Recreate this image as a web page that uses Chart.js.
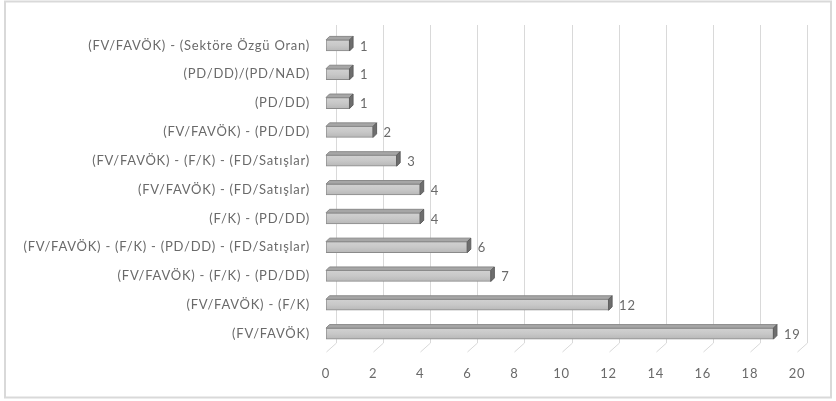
<!DOCTYPE html>
<html>
<head>
<meta charset="utf-8">
<script src="https://cdn.jsdelivr.net/npm/chart.js@4.4.1/dist/chart.umd.min.js"></script>
<style>
  html, body { margin: 0; padding: 0; background: #ffffff; }
  #wrap { position: relative; width: 836px; height: 401px; }
</style>
</head>
<body>
<div id="wrap"><canvas id="chart" width="836" height="401"></canvas></div>
<script>
// Valuation method combinations and how often each was used
const methods = [
  '(FV/FAVÖK) - (Sektöre Özgü Oran)',
  '(PD/DD)/(PD/NAD)',
  '(PD/DD)',
  '(FV/FAVÖK) - (PD/DD)',
  '(FV/FAVÖK) - (F/K) - (FD/Satışlar)',
  '(FV/FAVÖK) - (FD/Satışlar)',
  '(F/K) - (PD/DD)',
  '(FV/FAVÖK) - (F/K) - (PD/DD) - (FD/Satışlar)',
  '(FV/FAVÖK) - (F/K) - (PD/DD)',
  '(FV/FAVÖK) - (F/K)',
  '(FV/FAVÖK)'
];
const counts = [1, 1, 1, 2, 3, 4, 4, 6, 7, 12, 19];
const axisMin = 0;
const axisMax = 20;
const axisStep = 2;

const TEXT = '#6a6a6a';
const FONT = 'Lato';
const FONT_SIZE = 13;
const LETTER_SPACING = '0.75px';
const WALL_DX = 10, WALL_DY = 9;   // depth of the back wall
const BAR_DX = 3.5, BAR_DY = 3.5;  // depth of each bar

// Slightly tracked-out lettering for every label
const spacingPlugin = {
  id: 'spacing',
  beforeUpdate(chart) { chart.ctx.letterSpacing = LETTER_SPACING; },
  beforeLayout(chart) { chart.ctx.letterSpacing = LETTER_SPACING; },
  beforeDraw(chart) { chart.ctx.letterSpacing = LETTER_SPACING; }
};

// Outer frame of the chart
const framePlugin = {
  id: 'frame',
  beforeDraw(chart) {
    const c = chart.ctx;
    c.save();
    c.fillStyle = '#ffffff';
    c.fillRect(0, 0, chart.width, chart.height);
    c.strokeStyle = '#d9d9d9';
    c.lineWidth = 2;
    c.strokeRect(5, 1.5, 826, 396);
    c.restore();
  }
};

// Back-wall gridlines plus floor diagonals
const wallPlugin = {
  id: 'wall',
  beforeDatasetsDraw(chart) {
    const c = chart.ctx;
    const xs = chart.scales.x;
    const area = chart.chartArea;
    const backBottom = area.bottom - 5;
    const frontBottom = backBottom + WALL_DY;
    const top = area.top - 6;
    c.save();
    c.strokeStyle = '#d9d9d9';
    c.lineWidth = 1;
    xs.ticks.forEach(t => {
      const xf = Math.round(xs.getPixelForValue(t.value)) + 0.5;
      const xb = xf + WALL_DX;
      c.beginPath();
      c.moveTo(xb, top);
      c.lineTo(xb, backBottom);
      c.lineTo(xf, frontBottom);
      c.stroke();
    });
    c.restore();
  }
};

// Top and side faces of each bar, then the value labels
const barFacesPlugin = {
  id: 'barFaces',
  afterDatasetsDraw(chart) {
    const c = chart.ctx;
    const meta = chart.getDatasetMeta(0);
    c.save();
    meta.data.forEach((bar, i) => {
      const p = bar.getProps(['x', 'y', 'base', 'height'], true);
      const left = p.base, right = p.x;
      const top = p.y - p.height / 2, bottom = p.y + p.height / 2;
      // top face
      c.beginPath();
      c.moveTo(left, top);
      c.lineTo(left + BAR_DX, top - BAR_DY);
      c.lineTo(right + BAR_DX, top - BAR_DY);
      c.lineTo(right, top);
      c.closePath();
      c.fillStyle = '#a6a6a6';
      c.fill();
      c.strokeStyle = '#8a8a8a';
      c.lineWidth = 1;
      c.stroke();
      // right side face
      c.beginPath();
      c.moveTo(right, top);
      c.lineTo(right + BAR_DX, top - BAR_DY);
      c.lineTo(right + BAR_DX, bottom - BAR_DY);
      c.lineTo(right, bottom);
      c.closePath();
      c.fillStyle = '#6e6e6e';
      c.fill();
      c.strokeStyle = '#5e5e5e';
      c.stroke();
      // value label
      c.fillStyle = TEXT;
      c.font = FONT_SIZE + 'px "' + FONT + '"';
      c.letterSpacing = LETTER_SPACING;
      c.textAlign = 'left';
      c.textBaseline = 'middle';
      c.fillText(String(counts[i]), right + BAR_DX + 7, p.y + 1);
    });
    c.restore();
  }
};

function frontFill(context) {
  const chart = context.chart;
  const ys = chart.scales && chart.scales.y;
  if (!ys || !chart.chartArea) return '#c4c4c4';
  const y = ys.getPixelForValue(context.dataIndex);
  if (!isFinite(y)) return '#c4c4c4';
  const g = chart.ctx.createLinearGradient(0, y - 6, 0, y + 6);
  g.addColorStop(0, '#d2d2d2');
  g.addColorStop(0.5, '#c8c8c8');
  g.addColorStop(1, '#b6b6b6');
  return g;
}

const ctx = document.getElementById('chart').getContext('2d');
new Chart(ctx, {
  type: 'bar',
  data: {
    labels: methods,
    datasets: [{
      data: counts,
      barThickness: 11,
      borderWidth: 1,
      borderColor: '#8a8a8a',
      borderSkipped: false,
      backgroundColor: frontFill
    }]
  },
  options: {
    indexAxis: 'y',
    responsive: false,
    animation: false,
    events: [],
    layout: { padding: { top: 31, right: 39, bottom: 0, left: 0 } },
    plugins: {
      legend: { display: false },
      tooltip: { enabled: false },
      title: { display: false }
    },
    scales: {
      x: {
        min: axisMin,
        max: axisMax,
        ticks: {
          stepSize: axisStep,
          color: TEXT,
          font: { family: FONT, size: FONT_SIZE },
          padding: 18
        },
        grid: { display: false, drawTicks: false },
        border: { display: false },
        afterFit(scale) { scale.height = 53; }
      },
      y: {
        ticks: {
          color: TEXT,
          font: { family: FONT, size: FONT_SIZE },
          padding: 16,
          autoSkip: false
        },
        grid: { display: false, drawTicks: false },
        border: { display: false },
        afterFit(scale) { scale.width = 326; }
      }
    }
  },
  plugins: [spacingPlugin, framePlugin, wallPlugin, barFacesPlugin]
});
</script>
</body>
</html>
